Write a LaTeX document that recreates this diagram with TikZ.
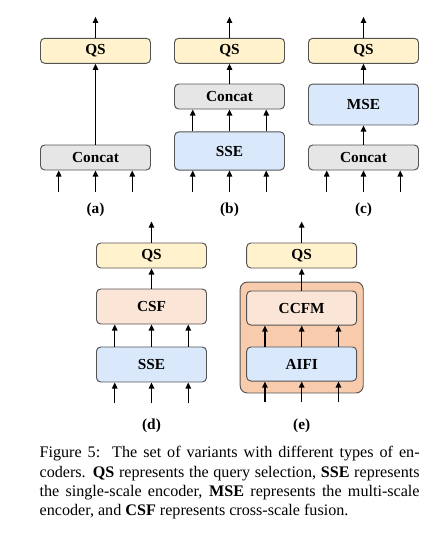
\documentclass[tikz,border=0pt]{standalone}
\usepackage{fontspec}
\setmainfont{Liberation Serif}
\usepackage{tikz}
\usetikzlibrary{arrows.meta,positioning}

\tikzset{
  enc/.style={draw=cbd,line width=0.6pt,rounded corners=2.6pt,minimum width=68.2pt,
    minimum height=15.5pt,inner sep=0pt,font=\fontsize{9.5}{11}\selectfont\bfseries},
  arr/.style={draw=black,line width=0.8pt,-{Triangle[length=3.8pt,width=3.4pt]}},
  sub/.style={font=\fontsize{9.5}{11}\selectfont\bfseries,inner sep=0pt},
}

\begin{document}
\begin{tikzpicture}[x=0.62pt,y=-0.62pt]
%
\useasboundingbox (0,0) rectangle (443,534);
%
\definecolor{cbd}{rgb}{0.33,0.33,0.33}
\definecolor{cqs}{HTML}{FFF2CC}
\definecolor{ccat}{HTML}{E6E6E6}
\definecolor{cenc}{HTML}{DAE8FC}
\definecolor{cfus}{HTML}{FBE5D6}
\definecolor{cout}{HTML}{F8CBAD}
%
% (a)
\node[enc,fill=cqs] (qsa) at (95.5,50.8) {QS};
\node[enc,fill=ccat] (cata) at (95.5,157.5) {Concat};
\node[sub] (la) at (95.5,210) {(a)};
%
% (b)
\node[enc,fill=cqs] (qsb) at (229.5,50.8) {QS};
\node[enc,fill=ccat] (catb) at (229.5,96.5) {Concat};
\node[enc,fill=cenc,minimum height=23.6pt] (sseb) at (229.5,151) {SSE};
\node[sub] (lb) at (229.5,210) {(b)};
%
% (c)
\node[enc,fill=cqs] (qsc) at (363.5,50.8) {QS};
\node[enc,fill=cenc,minimum height=25.4pt] (msec) at (363.5,104.5) {MSE};
\node[enc,fill=ccat] (catc) at (363.5,157.5) {Concat};
\node[sub] (lc) at (363.5,210) {(c)};
%
% (d)
\node[enc,fill=cqs] (qsd) at (151.5,255.5) {QS};
\node[enc,fill=cfus,minimum height=21.7pt] (csfd) at (151.5,306.5) {CSF};
\node[enc,fill=cenc,minimum height=21.7pt] (ssed) at (151.5,364.5) {SSE};
\node[sub] (ld) at (151.5,426) {(d)};
%
% (e)
\node[enc,fill=cout,minimum width=76.3pt,minimum height=68.8pt,rounded corners=4.5pt] (oute) at (301.7,337.5) {};
\node[enc,fill=cqs] (qse) at (301.7,255.5) {QS};
\node[enc,fill=cfus,minimum height=21.1pt] (ccfme) at (301.7,308) {CCFM};
\node[enc,fill=cenc,minimum height=21.1pt] (aifie) at (301.7,364) {AIFI};
\node[sub] (le) at (301.7,426) {(e)};
%
% outputs
\foreach \n in {qsa,qsb,qsc,qsd,qse}
  \draw[arr] (\n.north) -- ([yshift=13pt]\n.north);
%
% links
\draw[arr] (cata) -- (qsa);
\draw[arr] (catb) -- (qsb);
\draw[arr] (msec) -- (qsc);
\draw[arr] (catc) -- (msec);
\draw[arr] (csfd) -- (qsd);
\draw[arr] (ccfme) -- (qse);
\foreach \dx in {-22.8pt,0pt,22.8pt} {
  \draw[arr] ([xshift=\dx]sseb.north) -- ([xshift=\dx]catb.south);
  \draw[arr] ([xshift=\dx]ssed.north) -- ([xshift=\dx]csfd.south);
  \draw[arr] ([xshift=\dx]aifie.north) -- ([xshift=\dx]ccfme.south);
}
%
% inputs
\foreach \n in {cata,sseb,catc}
  \foreach \dx in {-22.8pt,0pt,22.8pt}
    \draw[arr] ([xshift=\dx,yshift=-13.6pt]\n.south) -- ([xshift=\dx]\n.south);
\foreach \n in {ssed,aifie}
  \foreach \dx in {-22.8pt,0pt,22.8pt}
    \draw[arr] ([xshift=\dx,yshift=-12.8pt]\n.south) -- ([xshift=\dx]\n.south);
%
% caption
\node[anchor=north west,inner sep=0pt,text width=235.6pt,align=justify,
  font=\fontsize{10}{12}\selectfont] (cap) at (39.3,446) {Figure 5:\ \ The set of variants with different types of en-\linebreak
coders. \textbf{QS} represents the query selection, \textbf{SSE} represents\linebreak
the single-scale encoder, \textbf{MSE} represents the multi-scale\linebreak
encoder, and \textbf{CSF} represents cross-scale fusion.};
%
\end{tikzpicture}
\end{document}
